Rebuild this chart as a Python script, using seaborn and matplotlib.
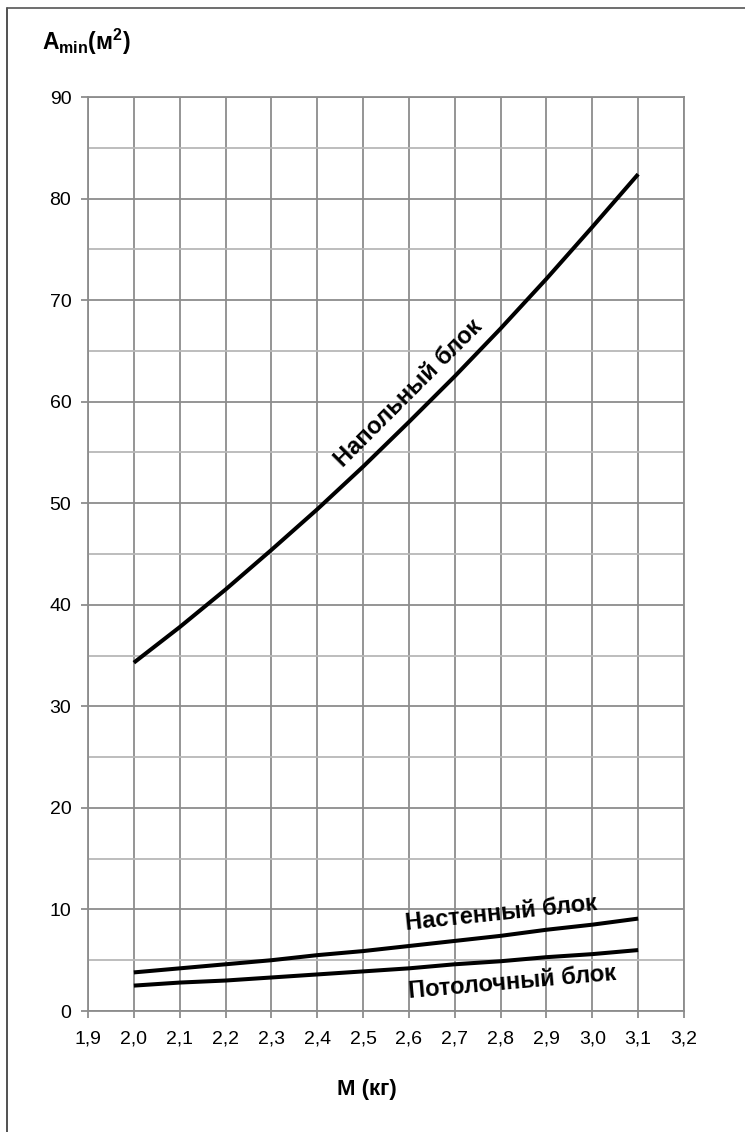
import numpy as np
import pandas as pd
import matplotlib
matplotlib.use("Agg")
import matplotlib.pyplot as plt
from matplotlib.ticker import FuncFormatter, MultipleLocator
from matplotlib.lines import Line2D
import seaborn as sns

# refrigerant charge M (kg)
mass = [2.0, 2.1, 2.2, 2.3, 2.4, 2.5, 2.6, 2.7, 2.8, 2.9, 3.0, 3.1]
# minimal room area A_min (m2)
floor_unit = [34.3, 37.8, 41.5, 45.4, 49.4, 53.6, 58.0, 62.5, 67.2, 72.1, 77.2, 82.4]
wall_unit = [3.8, 4.2, 4.6, 5.0, 5.5, 5.9, 6.4, 6.9, 7.4, 8.0, 8.5, 9.1]
ceiling_unit = [2.5, 2.8, 3.0, 3.3, 3.6, 3.9, 4.2, 4.6, 4.9, 5.3, 5.6, 6.0]
series_names = ["Напольный блок", "Настенный блок", "Потолочный блок"]

df = pd.DataFrame({
    "M": mass * 3,
    "A": floor_unit + wall_unit + ceiling_unit,
    "unit": [series_names[0]] * len(mass) + [series_names[1]] * len(mass) + [series_names[2]] * len(mass),
})

sns.set_theme(style="whitegrid")
plt.rcParams["font.family"] = ["Liberation Sans", "DejaVu Sans"]
plt.rcParams["text.color"] = "black"
plt.rcParams["mathtext.fontset"] = "custom"
plt.rcParams["mathtext.rm"] = "Liberation Sans:bold"
plt.rcParams["mathtext.it"] = "Liberation Sans:bold"
plt.rcParams["mathtext.bf"] = "Liberation Sans:bold"

fig = plt.figure(figsize=(7.45, 11.32), dpi=100)
ax = fig.add_axes([88 / 745, 1 - 1011 / 1132, (684 - 88) / 745, (1011 - 97) / 1132])

sns.lineplot(data=df, x="M", y="A", hue="unit", palette=["black"] * 3,
             linewidth=2.9, legend=False, ax=ax, solid_capstyle="butt")

ax.set_xlim(1.9, 3.2)
ax.set_ylim(0, 90)
ax.xaxis.set_major_locator(MultipleLocator(0.1))
ax.yaxis.set_major_locator(MultipleLocator(10))
ax.yaxis.set_minor_locator(MultipleLocator(5))
ax.xaxis.set_major_formatter(FuncFormatter(lambda v, _: f"{v:.1f}".replace(".", ",")))
ax.yaxis.set_major_formatter(FuncFormatter(lambda v, _: f"{v:.0f}"))

ax.grid(True, which="major", color="#8c8c8c", linewidth=1.3)
ax.grid(True, which="minor", axis="y", color="#b8b8b8", linewidth=1.3)
ax.set_axisbelow(True)
for s in ax.spines.values():
    s.set_color("#8c8c8c")
    s.set_linewidth(1.3)

ax.tick_params(axis="both", which="major", length=5, width=1.3, color="#8c8c8c",
               labelsize=14, labelcolor="black", left=True, bottom=True)
ax.tick_params(axis="x", which="major", pad=9)
ax.tick_params(axis="y", which="major", pad=7)
ax.tick_params(axis="y", which="minor", length=0)
ax.set_xlabel("")
ax.set_ylabel("")

# curve labels
ax.text(2.60, 60.8, series_names[0], rotation=45, ha="center", va="center",
        fontsize=17, fontweight="bold")
ax.text(2.80, 9.6, series_names[1], rotation=6, ha="center", va="center",
        fontsize=17, fontweight="bold")
ax.text(2.825, 2.85, series_names[2], rotation=5, ha="center", va="center",
        fontsize=17, fontweight="bold")

# axis titles
fig.text(42 / 745, 1 - 42 / 1132, r"$\mathrm{A_{min}(м^{2})}$", fontsize=16.5,
         ha="left", va="center")
fig.text(367 / 745, 1 - 1089 / 1132, "М (кг)", fontsize=16, fontweight="bold",
         ha="center", va="center")

# frame on the top and left of the picture
fig.add_artist(Line2D([7 / 745, 7 / 745], [0, 1 - 8 / 1132], color="#333333", linewidth=1.2))
fig.add_artist(Line2D([7 / 745, 1], [1 - 8 / 1132, 1 - 8 / 1132], color="#555555", linewidth=1.2))

fig.savefig("out.png", dpi=100)
